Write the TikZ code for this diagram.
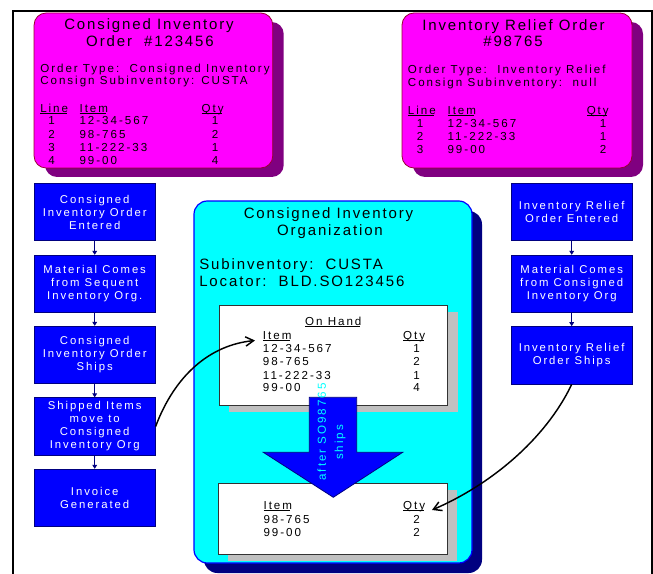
\documentclass[tikz,border=0pt]{standalone}
\usepackage{fontspec}
\setmainfont{Liberation Sans}
\newfontfamily\bodyf[LetterSpace=17]{Liberation Sans}
\newfontfamily\bigf[LetterSpace=12.5]{Liberation Sans}
\usetikzlibrary{arrows.meta,shadows}
\definecolor{mag}{RGB}{255,0,255}
\definecolor{magshadow}{RGB}{128,0,128}
\definecolor{magborder}{RGB}{153,0,51}
\definecolor{bluefill}{RGB}{0,0,255}
\definecolor{navyc}{RGB}{0,0,128}
\definecolor{cyanfill}{RGB}{0,255,255}
\definecolor{greyshadow}{RGB}{192,192,192}
\newcommand\ulx[1]{\setbox0\hbox{#1}\dimen0=\wd0\advance\dimen0 by -1.2pt\rlap{\rule[-1.4pt]{\dimen0}{0.55pt}}\box0}
\begin{document}
\begin{tikzpicture}[x=0.75pt,y=-0.75pt,
  body/.style={font=\bodyf\fontsize{8.7}{10}\selectfont, inner sep=0pt},
  big/.style={font=\bigf\fontsize{11.25}{12.5}\selectfont, inner sep=0pt},
  cyantxt/.style={font=\bodyf\fontsize{8.7}{10}\selectfont, inner sep=0pt, text=cyanfill},
  magbox/.style={draw=magborder, line width=0.6pt, fill=mag, rounded corners=9pt, inner sep=0pt,
    general shadow={fill=magshadow, shadow xshift=8.25pt, shadow yshift=-6.75pt}},
  cyanbox/.style={draw=bluefill, line width=0.9pt, fill=cyanfill, rounded corners=10pt, inner sep=0pt,
    general shadow={fill=navyc, shadow xshift=7.5pt, shadow yshift=-7.5pt}},
  whitebox/.style={draw=black!80, line width=0.6pt, fill=white, inner sep=0pt,
    general shadow={fill=greyshadow, shadow xshift=7.5pt, shadow yshift=-5.25pt}},
  bluebox/.style={draw=navyc, line width=0.6pt, fill=bluefill, text=white, align=center,
    minimum width=90.75pt, minimum height=43.1pt, inner sep=0pt,
    font=\bodyf\fontsize{8.5}{9.75}\selectfont},
  flow/.style={draw=navyc, line width=0.75pt, -{Triangle[length=3pt,width=3.5pt]}},
  curvearrow/.style={draw=black, line width=1.1pt, -{Straight Barb[length=6pt,width=7pt]}},
  bigarrow/.style={draw=navyc, line width=0.6pt, fill=bluefill},
  frame/.style={draw=black, line width=1.5pt}
]
\useasboundingbox (0,0) rectangle (653,574);

% frame
\draw[frame] (13,574) -- (13,11) -- (652,11) -- (652,574);

% magenta order boxes
\node[magbox, minimum width=179pt, minimum height=116.25pt] (lm) at (153.4,90.5) {};
\node[magbox, minimum width=172.5pt, minimum height=116.25pt] (rm) at (517,90.5) {};

% left order text
\node[big, anchor=base] (lmt1) at (149,30) {Consigned Inventory};
\node[big, anchor=base] (lmt2) at (150,46.7) {Order~~\#123456};
\node[body, anchor=base west] (lmot) at (40,72.7) {Order Type:~~Consigned Inventory};
\node[body, anchor=base west] (lmcs) at (40,85) {Consign Subinventory: CUSTA};
\node[body, anchor=base west] (lmhl) at (40,112.3) {\ulx{Line}};
\node[body, anchor=base west] (lmhi) at (79.3,112.3) {\ulx{Item}};
\node[body, anchor=base east] (lmhq) at (224,112.3) {\ulx{Qty}};
\foreach \n/\it/\q/\y in {1/12-34-567/1/124.7, 2/98-765/2/138.5, 3/11-222-33/1/151.5, 4/99-00/4/165}{
  \node[body, anchor=base] (lmn\n) at (51.7,\y) {\n};
  \node[body, anchor=base west] (lmi\n) at (79.3,\y) {\it};
  \node[body, anchor=base] (lmq\n) at (215,\y) {\q};
}

% right order text
\node[big, anchor=base] (rmt1) at (513.5,30.7) {Inventory Relief Order};
\node[big, anchor=base] (rmt2) at (513,46.7) {\#98765};
\node[body, anchor=base west] (rmot) at (407.7,74) {Order Type:~~Inventory Relief};
\node[body, anchor=base west] (rmcs) at (407.7,86.7) {Consign Subinventory:~~null};
\node[body, anchor=base west] (rmhl) at (407.7,114.3) {\ulx{Line}};
\node[body, anchor=base west] (rmhi) at (447.3,114.3) {\ulx{Item}};
\node[body, anchor=base east] (rmhq) at (609,114.3) {\ulx{Qty}};
\foreach \n/\it/\q/\y in {1/12-34-567/1/127.7, 2/11-222-33/1/140.7, 3/99-00/2/154}{
  \node[body, anchor=base] (rmn\n) at (420,\y) {\n};
  \node[body, anchor=base west] (rmi\n) at (447.3,\y) {\it};
  \node[body, anchor=base] (rmq\n) at (603,\y) {\q};
}

% consigned inventory organization
\node[cyanbox, minimum width=208.5pt, minimum height=271.5pt] (org) at (333,382) {};
\node[big, anchor=base] (orgt1) at (328.5,218.3) {Consigned Inventory};
\node[big, anchor=base] (orgt2) at (330,235) {Organization};
\node[big, anchor=base west] (orgsub) at (199,269) {Subinventory:~~CUSTA};
\node[big, anchor=base west] (orgloc) at (199,286) {Locator:~~BLD.SO123456};

% on hand box
\node[whitebox, minimum width=171.5pt, minimum height=75pt] (onhand) at (333.3,355) {};
\node[body, anchor=base] (ohtitle) at (333.3,325) {\ulx{On Hand}};
\node[body, anchor=base west] (ohhi) at (262.7,339) {\ulx{Item}};
\node[body, anchor=base east] (ohhq) at (425.5,339) {\ulx{Qty}};
\foreach \n/\it/\q/\y in {1/12-34-567/1/352.3, 2/98-765/2/365.3, 3/11-222-33/1/379, 4/99-00/4/391.7}{
  \node[body, anchor=base west] (ohi\n) at (262.7,\y) {\it};
  \node[body, anchor=base] (ohq\n) at (416.7,\y) {\q};
}

% after box
\node[whitebox, minimum width=171.75pt, minimum height=53pt] (after) at (332.8,518.7) {};
\node[body, anchor=base west] (afhi) at (263.3,509.3) {\ulx{Item}};
\node[body, anchor=base east] (afhq) at (425.5,509.3) {\ulx{Qty}};
\foreach \n/\it/\q/\y in {1/98-765/2/523.3, 2/99-00/2/536}{
  \node[body, anchor=base west] (afi\n) at (263.3,\y) {\it};
  \node[body, anchor=base] (afq\n) at (416.7,\y) {\q};
}

% big down arrow
\draw[bigarrow] (309.3,397.3) -- (356.7,397.3) -- (356.7,452.3) -- (402.7,452.3)
  -- (333.3,497.3) -- (263.3,452.3) -- (309.3,452.3) -- cycle;
\node[cyantxt, rotate=90] (arrtxt1) at (321.7,432) {after SO98765};
\node[cyantxt, rotate=90] (arrtxt2) at (340,442.5) {ships};

% left process
\node[bluebox] (lb1) at (94.7,212) {Consigned\\Inventory Order\\Entered};
\node[bluebox] (lb2) at (94.7,284) {Material Comes\\from Sequent\\Inventory Org.};
\node[bluebox] (lb3) at (94.7,355) {Consigned\\Inventory Order\\Ships};
\node[bluebox] (lb4) at (94.7,426.5) {Shipped Items\\move to\\Consigned\\Inventory Org};
\node[bluebox] (lb5) at (94.7,498) {Invoice\\Generated};
\draw[flow] (lb1.south) -- (lb2.north);
\draw[flow] (lb2.south) -- (lb3.north);
\draw[flow] (lb3.south) -- (lb4.north);
\draw[flow] (lb4.south) -- (lb5.north);

% right process
\node[bluebox] (rb1) at (571.7,212) {Inventory Relief\\Order Entered};
\node[bluebox] (rb2) at (571.7,284) {Material Comes\\from Consigned\\Inventory Org};
\node[bluebox] (rb3) at (571.7,355.3) {Inventory Relief\\Order Ships};
\draw[flow] (rb1.south) -- (rb2.north);
\draw[flow] (rb2.south) -- (rb3.north);

% curved connectors
\coordinate (tipA) at (255,340.5);
\coordinate (tipB) at (432,510);
\draw[curvearrow] (lb4.east) .. controls (175,375) and (210,345) .. (tipA);
\draw[curvearrow] (rb3.south) .. controls (545,440) and (490,485) .. (tipB);
\end{tikzpicture}
\end{document}
